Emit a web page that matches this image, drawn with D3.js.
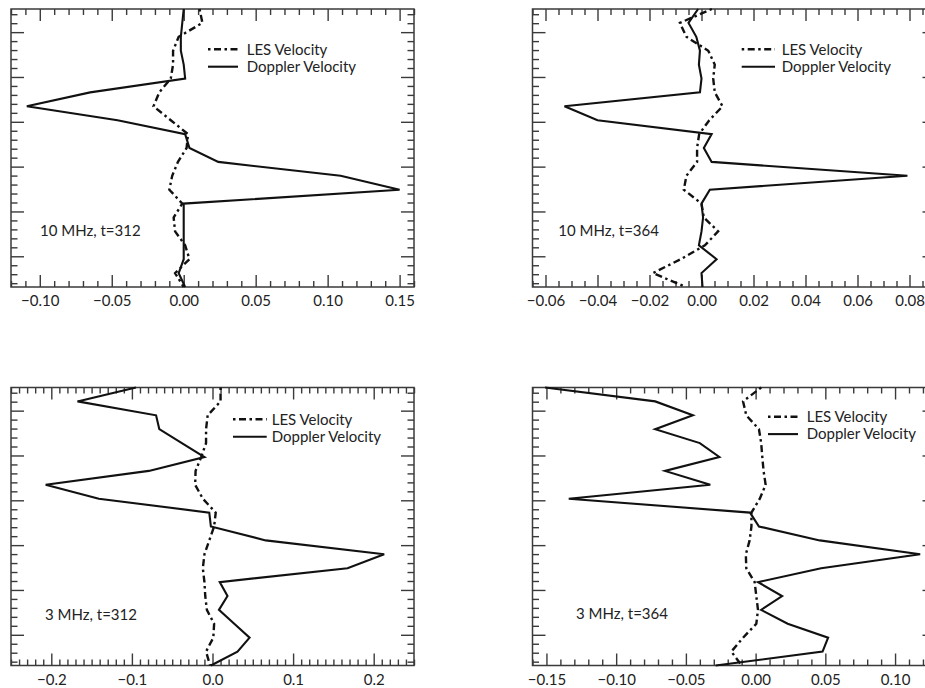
<!DOCTYPE html>
<html><head><meta charset="utf-8">
<script src="https://cdn.jsdelivr.net/npm/d3@7"></script>
<style>body{margin:0;background:#fff}svg{display:block}text{font-family:Lato,"Liberation Sans",sans-serif;fill:#222}</style>
</head><body><svg id="c" width="925" height="688"></svg>
<script>
// height levels (top to bottom), shared by all panels
const levels = [20,19,18,17,16,15,14,13,12,11,10,9,8,7,6,5,4,3,2,1,0];

// 10 MHz, t=312
const les_10_312 = [0.011,0.013,-0.0035,-0.0074,-0.0074,-0.009,-0.017,-0.021,-0.009,0.003,0.002,-0.004,-0.008,-0.010,-0.001,-0.007,-0.006,0.001,0.004,-0.006,0.000];
const dop_10_312 = [0.000,-0.001,-0.002,-0.002,0.000,0.001,-0.065,-0.109,-0.046,0.001,0.004,0.024,0.109,0.150,0.000,0.000,0.000,0.000,0.000,-0.0035,0.001];
// 10 MHz, t=364
const les_10_364 = [0.004,-0.0083,-0.0058,0.0026,0.0051,0.0045,0.0051,0.0081,0.003,-0.0009,-0.0017,-0.0017,-0.0058,-0.0068,0.000,0.0009,0.0064,0.0013,-0.0080,-0.0187,-0.006];
const dop_10_364 = [-0.0013,-0.005,-0.002,-0.0006,-0.001,0.000,-0.0006,-0.0527,-0.040,0.0039,0.0009,0.0039,0.0792,0.0032,0.000,0.0006,0.000,-0.001,0.0058,0.000,0.0004];
// 3 MHz, t=312
const les_3_312 = [0.010,0.010,-0.006,-0.008,-0.008,-0.014,-0.021,-0.0215,-0.012,0.004,0.002,-0.004,-0.010,-0.012,-0.010,-0.009,-0.007,0.002,0.001,-0.008,-0.003];
const dop_3_312 = [-0.095,-0.1675,-0.070,-0.066,-0.038,-0.010,-0.079,-0.207,-0.141,-0.004,-0.002,0.066,0.213,0.1675,0.009,0.0186,0.008,0.027,0.046,0.031,-0.002];
// 3 MHz, t=364
const les_3_364 = [0.004,-0.009,-0.0067,0.0024,0.004,0.0048,0.0057,0.0072,0.003,-0.003,-0.003,-0.0043,-0.007,-0.0067,-0.0007,0.0005,0.0017,0.0005,-0.009,-0.0174,-0.010];
const dop_3_364 = [-0.151,-0.072,-0.045,-0.072,-0.040,-0.026,-0.065,-0.0325,-0.134,-0.004,0.0024,0.046,0.118,0.047,0.0017,0.019,0.004,0.023,0.052,0.048,-0.0287];

// axis tick values
const xMajor_10_312 = [-0.10,-0.05,0.00,0.05,0.10,0.15];
const xMajor_10_364 = [-0.06,-0.04,-0.02,0.00,0.02,0.04,0.06,0.08];
const xMajor_3_312 = [-0.2,-0.1,0.0,0.1,0.2];
const xMajor_3_364 = [-0.15,-0.10,-0.05,0.00,0.05,0.10];
const yMajor = [2.21,5.435,8.66,11.885,15.11,18.335];
const yMinorStep = 0.645;

const legendLabels = ["LES Velocity","Doppler Velocity"];

const panels = [
  {label:"10 MHz, t=312", les:les_10_312, dop:dop_10_312, xDomain:[-0.12,0.16], xMajor:xMajor_10_312, xMinor:0.01, fmt:".2f",
   left:11, top:9, leg:{x0:208,x1:238,tx:246.7,y:49.3}, lab:{x:40,y:236}},
  {label:"10 MHz, t=364", les:les_10_364, dop:dop_10_364, xDomain:[-0.065,0.09], xMajor:xMajor_10_364, xMinor:0.005, fmt:".2f",
   left:532.5, top:9, leg:{x0:741.7,x1:775,tx:781.7,y:49.3}, lab:{x:558.3,y:236}},
  {label:"3 MHz, t=312", les:les_3_312, dop:dop_3_312, xDomain:[-0.25,0.25], xMajor:xMajor_3_312, xMinor:0.01, fmt:".1f",
   left:11, top:387.5, leg:{x0:233,x1:266.7,tx:271.7,y:419.3}, lab:{x:45,y:620}},
  {label:"3 MHz, t=364", les:les_3_364, dop:dop_3_364, xDomain:[-0.16,0.129], xMajor:xMajor_3_364, xMinor:0.01, fmt:".2f",
   left:532.5, top:387.5, leg:{x0:768,x1:798,tx:806.7,y:416.7}, lab:{x:576,y:619}}
];

const W = 403, H = 278;
const svg = d3.select("#c");
const axisColor = "#3a3a3a";
const dashDot = "2.5,3.5,7,3.5";

panels.forEach(p => {
  const g = svg.append("g").attr("transform", `translate(${p.left},${p.top})`);
  const x = d3.scaleLinear().domain(p.xDomain).range([0, W]);
  const y = d3.scaleLinear().domain([0, 20]).range([H, 0]);

  const xMinorTicks = d3.range(Math.ceil(p.xDomain[0]/p.xMinor - 1e-6), Math.floor(p.xDomain[1]/p.xMinor + 1e-6) + 1)
    .map(k => k * p.xMinor)
    .filter(v => !p.xMajor.some(m => Math.abs(m - v) < 1e-9));
  const yMinorTicks = d3.range(-10, 40).map(k => yMajor[0] + k * yMinorStep)
    .filter(v => v > 0.01 && v < 19.99 && !yMajor.some(m => Math.abs(m - v) < 0.05));

  // minor & major ticks via d3 axes (inward)
  const addAxis = (axisFn, tr, vals, len, labels) => {
    const a = g.append("g").attr("transform", tr)
      .call(axisFn.tickValues(vals).tickSize(len).tickSizeOuter(0)
        .tickFormat(labels ? d3.format(p.fmt) : ""));
    a.select(".domain").remove();
    a.selectAll(".tick line").attr("stroke", axisColor).attr("stroke-width", 1.4);
    return a;
  };
  // bottom
  addAxis(d3.axisBottom(x), `translate(0,${H})`, xMinorTicks, -6, false);
  const bx = addAxis(d3.axisBottom(x), `translate(0,${H})`, p.xMajor, -12, true);
  bx.selectAll(".tick text").attr("y", 19).attr("dy", 0).attr("font-size", 15)
    .attr("font-family", "Lato, 'Liberation Sans', sans-serif").attr("fill", "#222");
  // top
  addAxis(d3.axisTop(x), `translate(0,0)`, xMinorTicks, -6, false);
  addAxis(d3.axisTop(x), `translate(0,0)`, p.xMajor, -12, false);
  // left
  addAxis(d3.axisLeft(y), `translate(0,0)`, yMinorTicks, -6.5, false);
  addAxis(d3.axisLeft(y), `translate(0,0)`, yMajor, -13, false);
  // right
  addAxis(d3.axisRight(y), `translate(${W},0)`, yMinorTicks, -6.5, false);
  addAxis(d3.axisRight(y), `translate(${W},0)`, yMajor, -13, false);

  g.append("rect").attr("width", W).attr("height", H)
    .attr("fill", "none").attr("stroke", axisColor).attr("stroke-width", 1.5);

  const line = d3.line().x(d => x(d[0])).y(d => y(d[1]));
  const lesPts = p.les.map((v, i) => [v, levels[i]]);
  const dopPts = p.dop.map((v, i) => [v, levels[i]]);
  g.append("path").attr("d", line(lesPts)).attr("fill", "none").attr("stroke", "#111")
    .attr("stroke-width", 2.4).attr("stroke-dasharray", dashDot);
  g.append("path").attr("d", line(dopPts)).attr("fill", "none").attr("stroke", "#111")
    .attr("stroke-width", 2.1).attr("stroke-linejoin", "miter");

  // legend
  const L = p.leg;
  [0, 1].forEach(i => {
    const ly = L.y + i * 17.4;
    svg.append("line").attr("x1", L.x0).attr("x2", L.x1).attr("y1", ly).attr("y2", ly)
      .attr("stroke", "#111").attr("stroke-width", i === 0 ? 2.4 : 2.1)
      .attr("stroke-dasharray", i === 0 ? dashDot : null);
    svg.append("text").attr("x", L.tx).attr("y", ly + 5.3).attr("font-size", 15).text(legendLabels[i]);
  });
  svg.append("text").attr("x", p.lab.x).attr("y", p.lab.y).attr("font-size", 15).text(p.label);
});
</script></body></html>
